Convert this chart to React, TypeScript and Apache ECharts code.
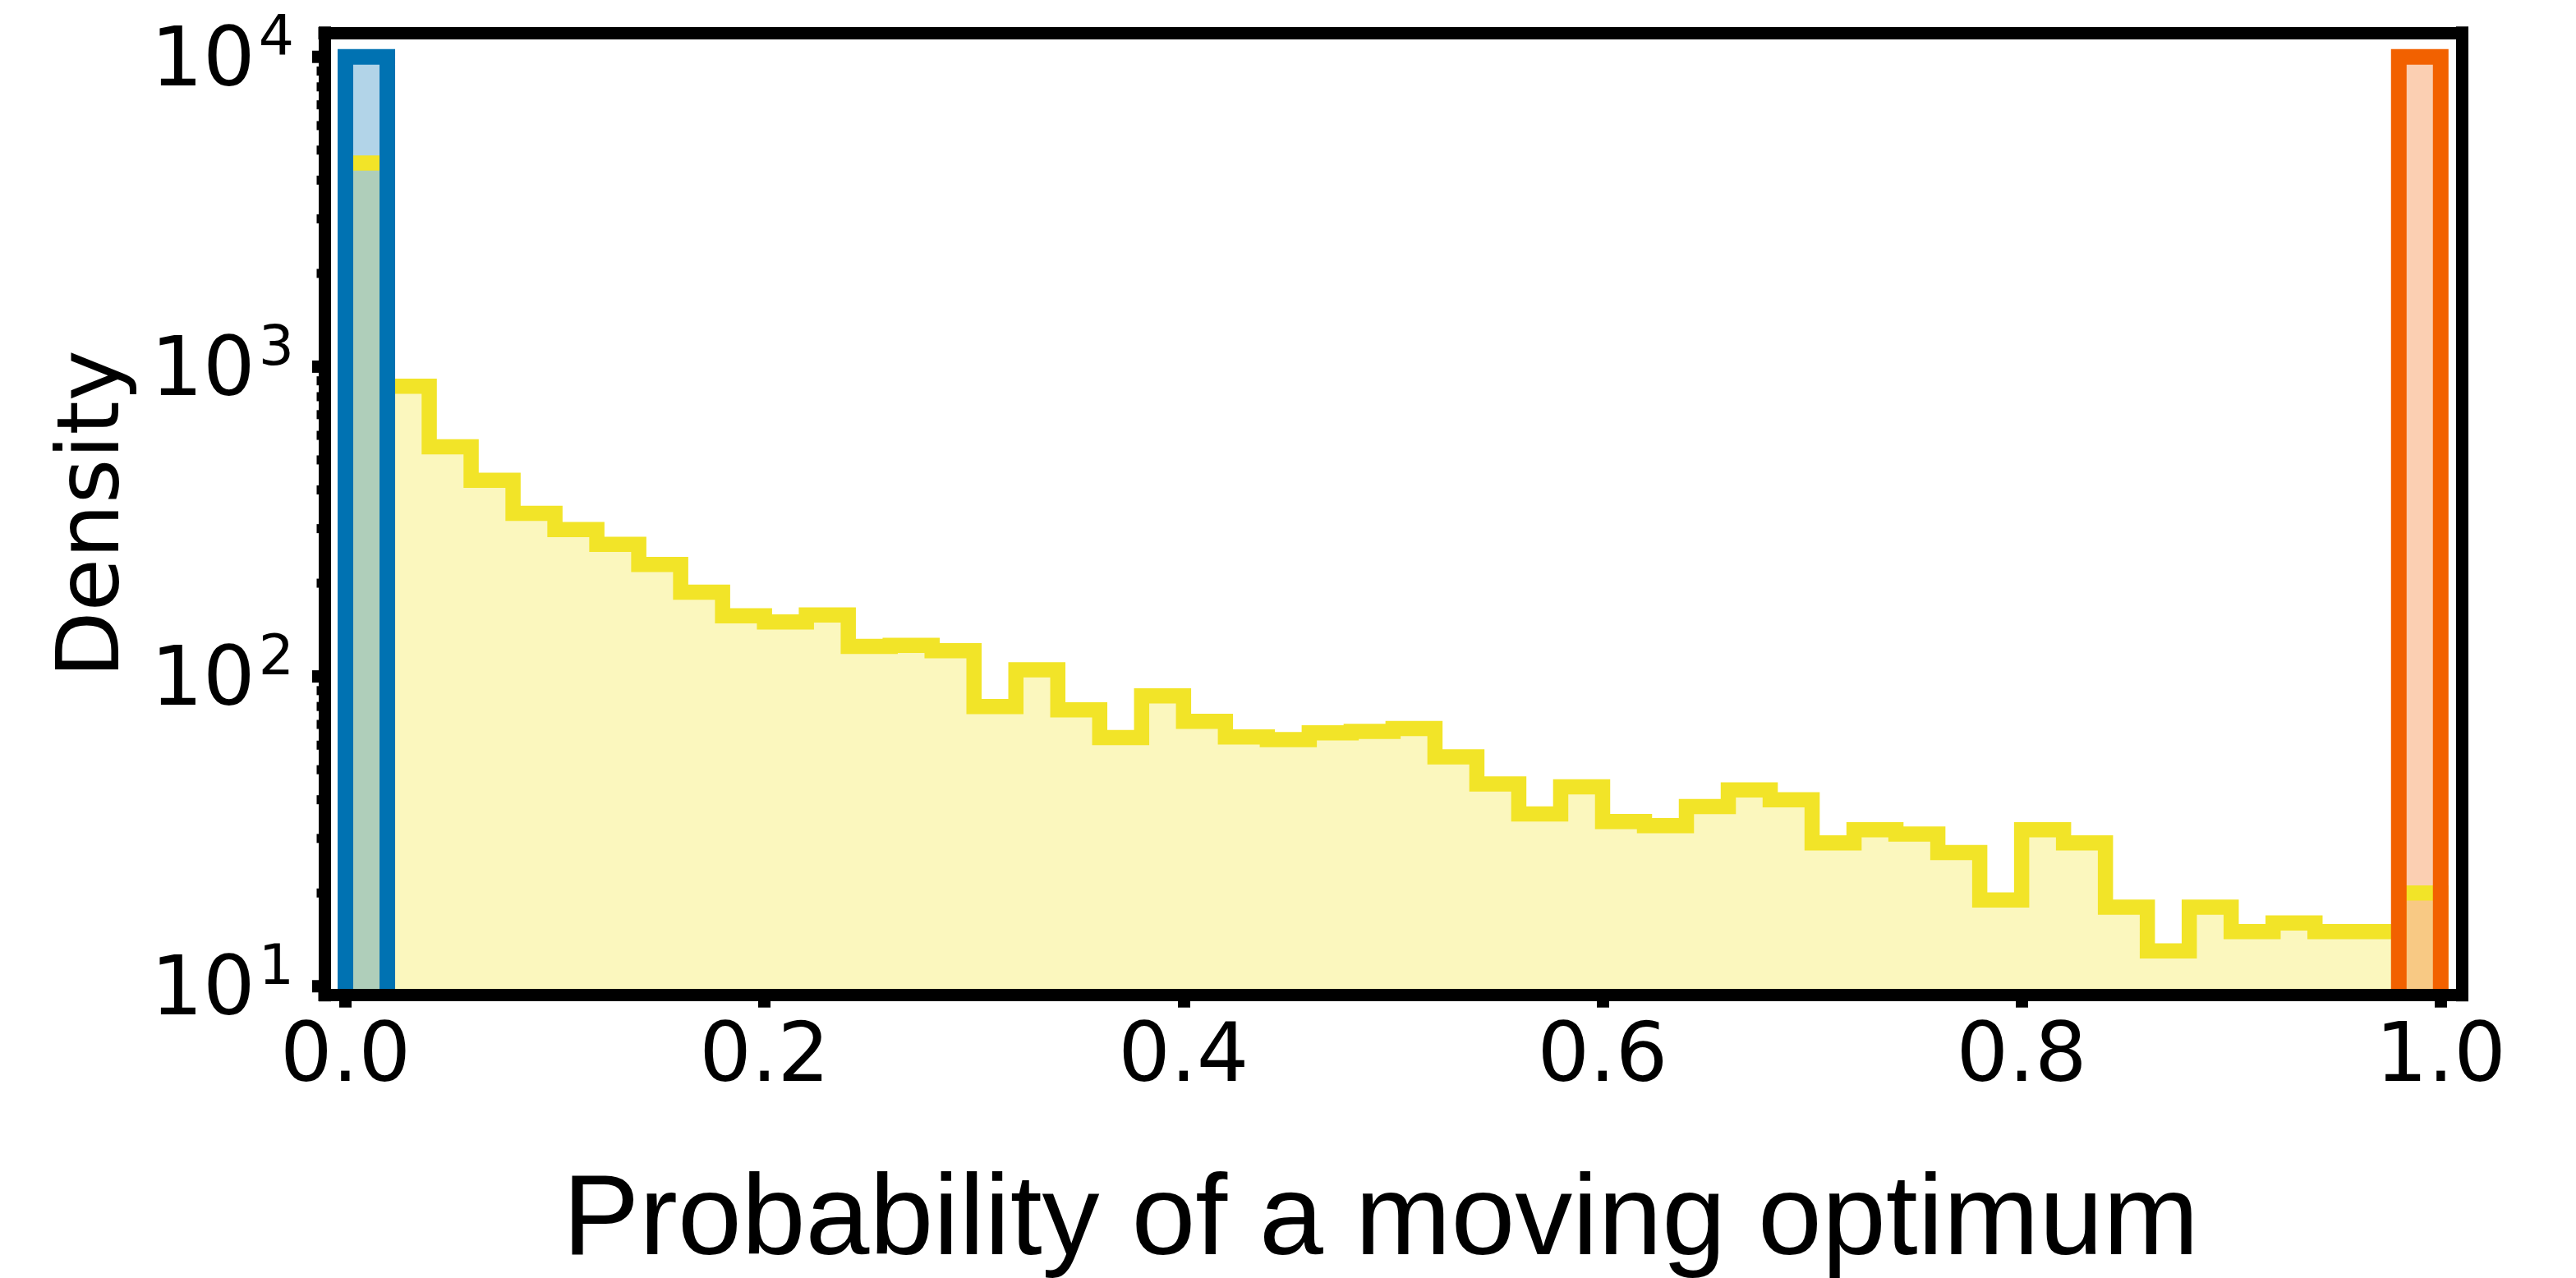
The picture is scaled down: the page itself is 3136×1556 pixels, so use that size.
import React, { useEffect, useRef } from "react";
import * as echarts from "echarts";

// Histogram bin width on the probability axis (50 bins over [0, 1]).
const BIN_WIDTH = 0.02;

// Density of all runs, one value per bin starting at 0.
const allDensity = [
  4540, 864, 551, 430, 336, 298, 267, 230, 187, 157,
  150, 158, 125, 126, 121, 80, 105, 78, 63.5, 86.5,
  71.6, 63.8, 62.5, 65.8, 66.5, 67.9, 55, 45, 36, 44,
  34, 33, 38, 43, 40, 29, 32, 31, 27, 19,
  32, 29, 18, 13, 18, 15, 16, 15, 15, 20,
];

// Runs that sit at the two ends of the range.
const lowEndBin = [0, 0.02];
const lowEndDensity = [10000];
const highEndBin = [0.98, 1.0];
const highEndDensity = [10000];

// Axis ranges and tick positions.
const xRange = [-0.01, 1.01];
const yRange = [9.355, 11967];
const xTicks = [0, 0.2, 0.4, 0.6, 0.8, 1.0];
const yMajorTicks = [10, 100, 1000, 10000];
const yMinorTicks = [
  20, 30, 40, 50, 60, 70, 80, 90,
  200, 300, 400, 500, 600, 700, 800, 900,
  2000, 3000, 4000, 5000, 6000, 7000, 8000, 9000,
];

const YELLOW = "#F2E428";
const YELLOW_FILL = "rgba(242,228,40,0.3)";
const BLUE = "#0072B2";
const BLUE_FILL = "rgba(0,114,178,0.3)";
const ORANGE = "#F26100";
const ORANGE_FILL = "rgba(242,97,0,0.3)";

const FRAME = { color: "#000", width: 15, cap: "square" as const };

function frameAxis(extra: any) {
  return {
    z: 10,
    axisLine: { show: true, onZero: false, lineStyle: FRAME },
    axisTick: { show: false },
    axisLabel: { show: false },
    splitLine: { show: false },
    ...extra,
  };
}

export default function App() {
  const ref = useRef<HTMLDivElement>(null);

  useEffect(() => {
    document.body.style.margin = "0";
    if (!ref.current) return;
    const chart = echarts.init(ref.current, undefined, { renderer: "svg" });

    const bottomOf = (params: any) => params.coordSys.y + params.coordSys.height;

    // corner points of the step outline, closed down to the axis floor
    const stepPoints = (params: any, api: any) => {
      const bottom = bottomOf(params);
      const pts: number[][] = [];
      allDensity.forEach((d, i) => {
        const a = api.coord([i * BIN_WIDTH, d]);
        const b = api.coord([(i + 1) * BIN_WIDTH, d]);
        if (i === 0) pts.push([a[0], bottom]);
        pts.push(a, b);
      });
      pts.push([pts[pts.length - 1][0], bottom]);
      return pts;
    };

    const yellowFill = (params: any, api: any) => ({
      type: "polygon",
      shape: { points: stepPoints(params, api) },
      style: { fill: YELLOW_FILL },
    });

    const yellowStep = (params: any, api: any) => ({
      type: "polyline",
      shape: { points: stepPoints(params, api) },
      style: { stroke: YELLOW, lineWidth: 18.5, fill: "none", lineJoin: "miter" },
    });

    const endFill = (bin: number[], dens: number[], fill: string) => (params: any, api: any) => {
      const bottom = bottomOf(params);
      const tl = api.coord([bin[0], dens[0]]);
      const tr = api.coord([bin[1], dens[0]]);
      return {
        type: "rect",
        shape: { x: tl[0], y: tl[1], width: tr[0] - tl[0], height: bottom - tl[1] },
        style: { fill },
      };
    };

    const endEdge = (bin: number[], dens: number[], stroke: string) => (params: any, api: any) => {
      const bottom = bottomOf(params);
      const tl = api.coord([bin[0], dens[0]]);
      const tr = api.coord([bin[1], dens[0]]);
      return {
        type: "polyline",
        shape: { points: [[tl[0], bottom], tl, tr, [tr[0], bottom]] },
        style: { stroke, lineWidth: 19, fill: "none", lineJoin: "miter" },
      };
    };

    // major and minor ticks of the log axis
    const yTickMarks = (params: any, api: any) => {
      const x0 = params.coordSys.x;
      const children: any[] = [];
      yMinorTicks.forEach((v) => {
        const p = api.coord([xRange[0], v]);
        children.push({
          type: "line",
          shape: { x1: x0 - 9.5, y1: p[1], x2: x0, y2: p[1] },
          style: { stroke: "#000", lineWidth: 11 },
        });
      });
      yMajorTicks.forEach((v) => {
        const p = api.coord([xRange[0], v]);
        children.push({
          type: "line",
          shape: { x1: x0 - 15, y1: p[1], x2: x0, y2: p[1] },
          style: { stroke: "#000", lineWidth: 15 },
        });
      });
      return { type: "group", children };
    };

    const single = [[0.5, 100]];

    const option: any = {
      animation: false,
      backgroundColor: "#fff",
      grid: {
        left: 395,
        right: 139.2,
        top: 39.8,
        bottom: 344.3,
        containLabel: false,
        outerBoundsMode: "none",
      },
      xAxis: [
        {
          type: "value",
          min: xRange[0],
          max: xRange[1],
          position: "bottom",
          z: 10,
          axisLine: { show: true, onZero: false, lineStyle: FRAME },
          axisTick: {
            show: true,
            customValues: xTicks,
            length: 15,
            lineStyle: { color: "#000", width: 15 },
          },
          axisLabel: {
            customValues: xTicks,
            formatter: (v: number) => v.toFixed(1),
            fontFamily: "DejaVu Sans",
            fontSize: 100,
            lineHeight: 100,
            color: "#000",
            margin: 20,
          },
          splitLine: { show: false },
          name: "Probability of a moving optimum",
          nameLocation: "middle",
          nameGap: 197,
          nameTextStyle: {
            fontFamily: "Liberation Sans",
            fontSize: 140,
            lineHeight: 140,
            padding: [0, 30, 0, 0],
            color: "#000",
          },
        },
        frameAxis({ type: "value", min: xRange[0], max: xRange[1], position: "top" }),
      ],
      yAxis: [
        {
          type: "log",
          logBase: 10,
          min: yRange[0],
          max: yRange[1],
          position: "left",
          z: 10,
          axisLine: { show: true, onZero: false, lineStyle: FRAME },
          axisTick: { show: false },
          axisLabel: {
            margin: 37,
            formatter: (v: number) => {
              const e = Math.log10(v);
              const r = Math.round(e);
              if (Math.abs(e - r) > 1e-6) return "";
              return `{b|10}{s|${r}}`;
            },
            rich: {
              b: { fontFamily: "DejaVu Sans", fontSize: 100, lineHeight: 120, color: "#000" },
              s: {
                fontFamily: "DejaVu Sans",
                fontSize: 68,
                lineHeight: 68,
                verticalAlign: "top",
                padding: [0, 0, 0, 4],
                color: "#000",
              },
            },
          },
          splitLine: { show: false },
          name: "Density",
          nameLocation: "middle",
          nameRotate: 90,
          nameGap: 235,
          nameTextStyle: {
            fontFamily: "DejaVu Sans",
            fontSize: 105,
            lineHeight: 105,
            color: "#000",
          },
        },
        frameAxis({
          type: "log",
          logBase: 10,
          min: yRange[0],
          max: yRange[1],
          position: "right",
        }),
      ],
      series: [
        { type: "custom", z: 1, silent: true, data: single, renderItem: yellowFill },
        {
          type: "custom",
          z: 2,
          silent: true,
          data: single,
          renderItem: endFill(lowEndBin, lowEndDensity, BLUE_FILL),
        },
        {
          type: "custom",
          z: 2,
          silent: true,
          data: single,
          renderItem: endFill(highEndBin, highEndDensity, ORANGE_FILL),
        },
        { type: "custom", z: 3, silent: true, data: single, renderItem: yellowStep },
        {
          type: "custom",
          z: 4,
          silent: true,
          data: single,
          renderItem: endEdge(lowEndBin, lowEndDensity, BLUE),
        },
        {
          type: "custom",
          z: 4,
          silent: true,
          data: single,
          renderItem: endEdge(highEndBin, highEndDensity, ORANGE),
        },
        { type: "custom", z: 11, silent: true, data: single, renderItem: yTickMarks },
      ],
    };

    chart.setOption(option);
    return () => chart.dispose();
  }, []);

  return <div ref={ref} style={{ width: 3136, height: 1556 }} />;
}
